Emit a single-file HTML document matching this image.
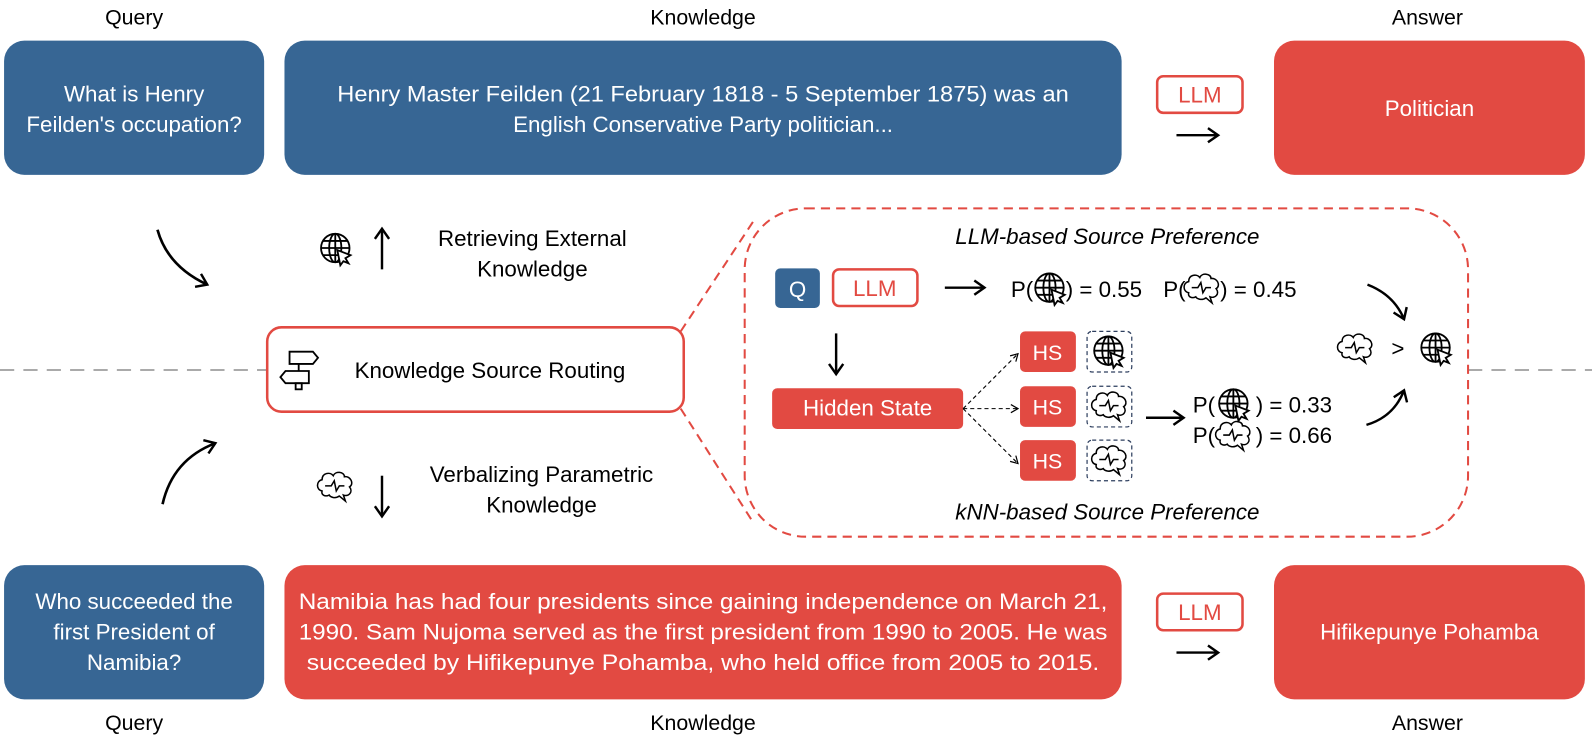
<!DOCTYPE html>
<html><head><meta charset="utf-8"><style>
html,body{margin:0;padding:0;background:#fff;}
svg{display:block;font-family:"Liberation Sans","DejaVu Sans",sans-serif;}
</style></head><body>
<svg width="1592" height="740" viewBox="0 0 1567 728" preserveAspectRatio="none" xmlns="http://www.w3.org/2000/svg">
<defs>
<marker id="ah" markerWidth="16" markerHeight="16" refX="12" refY="8" orient="auto" markerUnits="userSpaceOnUse"><path d="M2,1 L12,8 L2,15" fill="none" stroke="#000" stroke-width="2.4"/></marker>
<marker id="ahs" markerWidth="10" markerHeight="10" refX="8" refY="5" orient="auto" markerUnits="userSpaceOnUse"><path d="M1,1 L8,5 L1,9" fill="none" stroke="#000" stroke-width="1.2"/></marker>
<g id="globe" fill="none" stroke="#000" stroke-width="1.8">
<circle cx="0" cy="0" r="14"/><ellipse cx="0" cy="0" rx="6" ry="14"/><line x1="-14" y1="0" x2="14" y2="0"/><line x1="0" y1="-14" x2="0" y2="14"/><line x1="-12" y1="-7" x2="12" y2="-7"/><line x1="-12" y1="7" x2="12" y2="7"/>
<path d="M2,2 L15,7 L10,10 L13,15 L8,13 L5,17 Z" fill="#fff" stroke="#000"/>
</g>
<g id="brain" fill="none" stroke="#000" stroke-width="1.5">
<path d="M-13,5 C-19,4 -19,-5 -13,-6 C-13,-13 -5,-14 -2,-10 C0,-15 9,-14 9,-9 C15,-10 19,-2 14,1 C18,6 13,11 8,9 L10,15 L4,10 C0,13 -5,11 -6,9 C-10,11 -14,9 -13,5 Z"/>
<path d="M-10,0 L-4,0 L-1,-5 L1,5 L4,0 L9,0"/>
</g>
</defs>

<g font-size="21" fill="#000" text-anchor="middle">
<text x="132" y="24">Query</text>
<text x="692" y="24">Knowledge</text>
<text x="1405" y="24">Answer</text>
<text x="132" y="718">Query</text>
<text x="692" y="718">Knowledge</text>
<text x="1405" y="718">Answer</text>
</g>

<rect x="4" y="40" width="256" height="132" rx="20" fill="#376694"/>
<rect x="280" y="40" width="824" height="132" rx="20" fill="#376694"/>
<rect x="1254" y="40" width="306" height="132" rx="20" fill="#E24A42"/>
<g fill="#fff" font-size="22" text-anchor="middle">
<text x="132" y="100">What is Henry</text>
<text x="132" y="130">Feilden's occupation?</text>
<text x="692" y="100" textLength="720" lengthAdjust="spacingAndGlyphs">Henry Master Feilden (21 February 1818 - 5 September 1875) was an</text>
<text x="692" y="130">English Conservative Party politician...</text>
<text x="1407" y="114">Politician</text>
</g>
<rect x="1139" y="75" width="84" height="36" rx="6" fill="#fff" stroke="#E24A42" stroke-width="2.5"/>
<text x="1181" y="101" font-size="22" fill="#E24A42" text-anchor="middle">LLM</text>
<line x1="1158" y1="133" x2="1199" y2="133" stroke="#000" stroke-width="2.4" marker-end="url(#ah)"/>

<rect x="4" y="556" width="256" height="132" rx="20" fill="#376694"/>
<rect x="280" y="556" width="824" height="132" rx="20" fill="#E24A42"/>
<rect x="1254" y="556" width="306" height="132" rx="20" fill="#E24A42"/>
<g fill="#fff" font-size="22" text-anchor="middle">
<text x="132" y="599">Who succeeded the</text>
<text x="132" y="629">first President of</text>
<text x="132" y="659">Namibia?</text>
<text x="692" y="599" textLength="796" lengthAdjust="spacingAndGlyphs">Namibia has had four presidents since gaining independence on March 21,</text>
<text x="692" y="629" textLength="796" lengthAdjust="spacingAndGlyphs">1990. Sam Nujoma served as the first president from 1990 to 2005. He was</text>
<text x="692" y="659" textLength="780" lengthAdjust="spacingAndGlyphs">succeeded by Hifikepunye Pohamba, who held office from 2005 to 2015.</text>
<text x="1407" y="629">Hifikepunye Pohamba</text>
</g>
<rect x="1139" y="584" width="84" height="36" rx="6" fill="#fff" stroke="#E24A42" stroke-width="2.5"/>
<text x="1181" y="610" font-size="22" fill="#E24A42" text-anchor="middle">LLM</text>
<line x1="1158" y1="642" x2="1199" y2="642" stroke="#000" stroke-width="2.4" marker-end="url(#ah)"/>

<line x1="0" y1="364" x2="263" y2="364" stroke="#aaa" stroke-width="2" stroke-dasharray="14,9"/>
<line x1="1445" y1="364" x2="1567" y2="364" stroke="#aaa" stroke-width="2" stroke-dasharray="14,9"/>

<path d="M155,226 Q165,262 204,280" fill="none" stroke="#000" stroke-width="2.6" marker-end="url(#ah)"/>
<path d="M160,496 Q170,452 212,436" fill="none" stroke="#000" stroke-width="2.6" marker-end="url(#ah)"/>

<use href="#globe" x="330" y="244"/>
<line x1="376" y1="265" x2="376" y2="225" stroke="#000" stroke-width="2.4" marker-end="url(#ah)"/>
<g font-size="22" text-anchor="middle">
<text x="524" y="242">Retrieving External</text>
<text x="524" y="272">Knowledge</text>
<text x="533" y="474">Verbalizing Parametric</text>
<text x="533" y="504">Knowledge</text>
</g>
<use href="#brain" x="330" y="478"/>
<line x1="376" y1="468" x2="376" y2="508" stroke="#000" stroke-width="2.4" marker-end="url(#ah)"/>

<rect x="263" y="322" width="410" height="83" rx="14" fill="#fff" stroke="#E24A42" stroke-width="2.5"/>
<g fill="none" stroke="#000" stroke-width="1.8">
<path d="M285,346 L308,346 L313,352 L308,358 L285,358 Z"/>
<path d="M304,365 L281,365 L276,371 L281,377 L304,377 Z"/>
<line x1="294" y1="358" x2="294" y2="365"/><rect x="291" y="377" width="6" height="6"/>
</g>
<text x="349" y="372" font-size="22">Knowledge Source Routing</text>

<rect x="733" y="205" width="712" height="323" rx="60" fill="none" stroke="#E24A42" stroke-width="2" stroke-dasharray="9,6"/>
<line x1="670" y1="326" x2="742" y2="217" stroke="#E24A42" stroke-width="2" stroke-dasharray="9,6"/>
<line x1="670" y1="402" x2="742" y2="515" stroke="#E24A42" stroke-width="2" stroke-dasharray="9,6"/>

<g font-size="22" font-style="italic" text-anchor="middle">
<text x="1090" y="240">LLM-based Source Preference</text>
<text x="1090" y="511">kNN-based Source Preference</text>
</g>

<rect x="763" y="264" width="44" height="39" rx="5" fill="#376694"/>
<text x="785" y="292" font-size="22" fill="#fff" text-anchor="middle">Q</text>
<rect x="820" y="265" width="83" height="36" rx="6" fill="#fff" stroke="#E24A42" stroke-width="2.5"/>
<text x="861" y="291" font-size="22" fill="#E24A42" text-anchor="middle">LLM</text>
<line x1="930" y1="283" x2="969" y2="283" stroke="#000" stroke-width="2.4" marker-end="url(#ah)"/>
<g font-size="22">
<text x="995" y="292">P(</text><use href="#globe" x="1033" y="283"/><text x="1049" y="292">) = 0.55</text>
<text x="1145" y="292">P(</text><use href="#brain" x="1183" y="283"/><text x="1201" y="292">) = 0.45</text>
</g>

<line x1="823" y1="328" x2="823" y2="368" stroke="#000" stroke-width="2.4" marker-end="url(#ah)"/>
<rect x="760" y="382" width="188" height="40" rx="5" fill="#E24A42"/>
<text x="854" y="409" font-size="22" fill="#fff" text-anchor="middle">Hidden State</text>

<g stroke="#000" stroke-width="1.1" stroke-dasharray="4,3" fill="none">
<line x1="948" y1="402" x2="1002" y2="348" marker-end="url(#ahs)"/>
<line x1="948" y1="402" x2="1002" y2="402" marker-end="url(#ahs)"/>
<line x1="948" y1="402" x2="1002" y2="456" marker-end="url(#ahs)"/>
</g>
<g fill="#E24A42">
<rect x="1004" y="326" width="55" height="40" rx="5"/>
<rect x="1004" y="380" width="55" height="40" rx="5"/>
<rect x="1004" y="433" width="55" height="40" rx="5"/>
</g>
<g font-size="21" fill="#fff" text-anchor="middle">
<text x="1031" y="354">HS</text><text x="1031" y="408">HS</text><text x="1031" y="461">HS</text>
</g>
<g fill="none" stroke="#2d3e5e" stroke-width="1.2" stroke-dasharray="4,3">
<rect x="1070" y="326" width="44" height="40" rx="5"/>
<rect x="1070" y="380" width="44" height="40" rx="5"/>
<rect x="1070" y="433" width="44" height="40" rx="5"/>
</g>
<use href="#globe" x="1091" y="345"/>
<use href="#brain" x="1092" y="399"/>
<use href="#brain" x="1092" y="452"/>

<line x1="1128" y1="411" x2="1165" y2="411" stroke="#000" stroke-width="2.4" marker-end="url(#ah)"/>
<g font-size="22">
<text x="1174" y="406">P(</text><use href="#globe" x="1214" y="397"/><text x="1236" y="406">) = 0.33</text>
<text x="1174" y="436">P(</text><use href="#brain" x="1214" y="428"/><text x="1236" y="436">) = 0.66</text>
</g>

<path d="M1346,280 Q1372,290 1382,314" fill="none" stroke="#000" stroke-width="2.4" marker-end="url(#ah)"/>
<path d="M1345,418 Q1372,410 1382,384" fill="none" stroke="#000" stroke-width="2.4" marker-end="url(#ah)"/>
<use href="#brain" x="1334" y="342"/>
<text x="1376" y="350" font-size="22" text-anchor="middle">&gt;</text>
<use href="#globe" x="1413" y="342"/>
</svg>
</body></html>
